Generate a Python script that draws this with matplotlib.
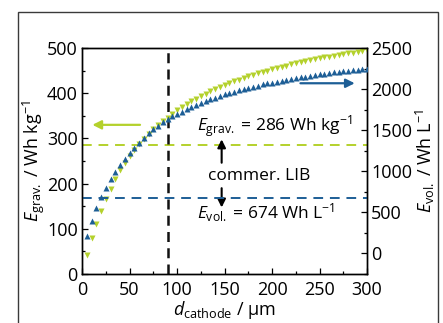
import matplotlib
matplotlib.use('Agg')
import matplotlib.pyplot as plt
import matplotlib.patches as mpatches
import matplotlib.ticker as mticker

plt.rcParams['font.family'] = ['Open Sans', 'DejaVu Sans']
plt.rcParams['mathtext.fontset'] = 'custom'
plt.rcParams['mathtext.rm'] = 'Open Sans'
plt.rcParams['mathtext.it'] = 'Open Sans:italic'

# cathode thickness (um)
d_cathode = [5, 10, 15, 20, 25, 30, 35, 40, 45, 50, 55, 60, 65, 70, 75, 80, 85, 90, 95, 100,
             105, 110, 115, 120, 125, 130, 135, 140, 145, 150, 155, 160, 165, 170, 175, 180, 185, 190, 195, 200,
             205, 210, 215, 220, 225, 230, 235, 240, 245, 250, 255, 260, 265, 270, 275, 280, 285, 290, 295, 300]
# gravimetric energy density (Wh/kg)
e_grav = [42, 79, 111, 139, 165, 189, 210, 229, 246, 261, 275, 288, 299, 310, 320, 329, 338, 346, 354, 362,
          369, 376, 382, 388, 394, 399, 404, 409, 414, 418, 422, 426, 430, 434, 437, 441, 444, 447, 450, 453,
          456, 459, 461, 464, 466, 468, 471, 473, 475, 477, 479, 481, 483, 485, 486, 488, 490, 491, 493, 495]
# volumetric energy density (Wh/L)
e_vol = [212, 393, 549, 686, 800, 900, 990, 1072, 1148, 1220, 1288, 1350, 1408, 1460, 1510, 1556, 1597, 1634, 1667, 1698,
         1727, 1756, 1783, 1808, 1832, 1855, 1876, 1897, 1916, 1935, 1952, 1969, 1985, 2001, 2015, 2030, 2043, 2056, 2069, 2080,
         2092, 2103, 2114, 2124, 2134, 2144, 2153, 2162, 2171, 2179, 2187, 2195, 2203, 2210, 2217, 2224, 2231, 2237, 2244, 2250]

lib_grav = 286
lib_vol = 674
d_mark = 90

green = '#b4d12c'
blue = '#1d5e96'

fig = plt.figure(figsize=(4.43, 3.23), dpi=100)
fig.patches.append(mpatches.Rectangle((18 / 443, -0.05), 420 / 443, 1.05 - 12 / 323,
                                      transform=fig.transFigure, fill=False,
                                      edgecolor='#3a3a3a', lw=1.0))

ax = fig.add_axes([82 / 443, 1 - 274 / 323, 285 / 443, 226 / 323])
ax2 = ax.twinx()

ax.axhline(lib_grav, color=green, ls=(0, (5, 3.5)), lw=1.4, zorder=1)
ax2.axhline(lib_vol, color=blue, ls=(0, (5, 3.5)), lw=1.4, zorder=1)
ax.axvline(d_mark, color='#111111', ls=(0, (4, 2.5)), lw=1.8, zorder=1)

ax.plot(d_cathode, e_grav, ls='none', marker='v', ms=4.8, color=green, mec='none', zorder=3)
ax2.plot(d_cathode, e_vol, ls='none', marker='^', ms=4.8, color=blue, mec='none', zorder=3)

ax.set_xlim(0, 300)
ax.set_ylim(0, 500)
ax2.set_ylim(-250, 2500)

ax.xaxis.set_major_locator(mticker.MultipleLocator(50))
ax.xaxis.set_minor_locator(mticker.MultipleLocator(25))
ax.yaxis.set_major_locator(mticker.MultipleLocator(100))
ax.yaxis.set_minor_locator(mticker.MultipleLocator(50))
ax2.yaxis.set_major_locator(mticker.MultipleLocator(500))
ax2.yaxis.set_minor_locator(mticker.MultipleLocator(250))

for a in (ax, ax2):
    a.tick_params(which='both', direction='in', labelsize=13, width=0.9, pad=3)
    a.tick_params(which='major', length=4)
    a.tick_params(which='minor', length=2)
    for s in a.spines.values():
        s.set_linewidth(1.0)
ax.tick_params(axis='y', right=False)
ax.tick_params(axis='x', top=False, pad=5)

ax.set_xlabel(r'$\mathit{d}_{\mathrm{cathode}}$ / µm', fontsize=13, labelpad=0)
ax.set_ylabel(r'$\mathit{E}_{\mathrm{grav.}}$ / Wh kg$^{-1}$', fontsize=13, labelpad=0)
ax2.set_ylabel(r'$\mathit{E}_{\mathrm{vol.}}$ / Wh L$^{-1}$', fontsize=13, labelpad=1)

# arrows pointing to the axes
ax.annotate('', xy=(8, 330), xytext=(64, 330),
            arrowprops=dict(arrowstyle='-|>', color=green, lw=1.6, mutation_scale=13))
ax.annotate('', xy=(290, 422), xytext=(227, 422),
            arrowprops=dict(arrowstyle='-|>', color=blue, lw=1.6, mutation_scale=13))

# commercial LIB reference
ax.text(121, 328, r'$\mathit{E}_{\mathrm{grav.}}$ = 286 Wh kg$^{-1}$', fontsize=12.5, va='center')
ax.text(133, 216, 'commer. LIB', fontsize=12.5, va='center')
ax.text(121, 135, r'$\mathit{E}_{\mathrm{vol.}}$ = 674 Wh L$^{-1}$', fontsize=12.5, va='center')
ax.annotate('', xy=(147, 304), xytext=(147, 240),
            arrowprops=dict(arrowstyle='-|>', color='black', lw=1.5, mutation_scale=12))
ax.annotate('', xy=(147, 141), xytext=(147, 196),
            arrowprops=dict(arrowstyle='-|>', color='black', lw=1.5, mutation_scale=12))

fig.savefig('out.png', dpi=100)
